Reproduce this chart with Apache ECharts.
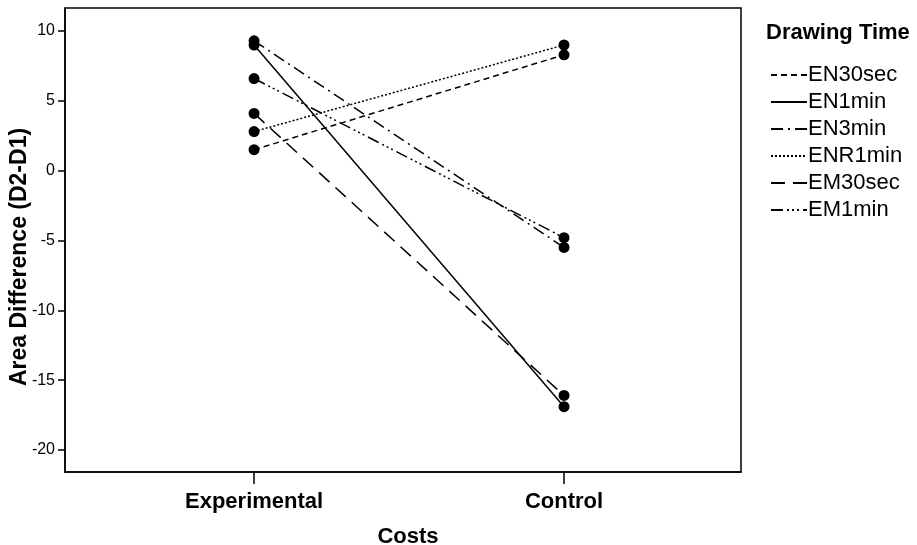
<!DOCTYPE html>
<html><head><meta charset="utf-8">
<script src="https://cdn.jsdelivr.net/npm/echarts@6/dist/echarts.min.js"></script>
<style>html,body{margin:0;padding:0;background:#fff}#c{width:917px;height:545px}</style>
</head><body><div id="c"></div>
<script>
const categories = ['Experimental', 'Control'];
const seriesNames = ['EN30sec', 'EN1min', 'EN3min', 'ENR1min', 'EM30sec', 'EM1min'];
const EN30sec = [1.5, 8.3];
const EN1min = [9.0, -16.9];
const EN3min = [9.3, -5.5];
const ENR1min = [2.8, 9.0];
const EM30sec = [4.1, -16.1];
const EM1min = [6.6, -4.8];
const yTicks = [-20, -15, -10, -5, 0, 5, 10];

const values = [EN30sec, EN1min, EN3min, ENR1min, EM30sec, EM1min];
const dashes = [[6, 4], 'solid', [12, 5, 2, 5], [2, 2], [14, 8], [12, 4, 2, 3, 2, 3, 2, 4]];
const FONT = 'Liberation Sans, Arial, sans-serif';

const chart = echarts.init(document.getElementById('c'), null, {renderer: 'canvas'});
chart.setOption({
  animation: false,
  title: {
    text: 'Drawing Time', left: 761, top: 17,
    textStyle: {fontFamily: FONT, fontWeight: 'bold', fontSize: 22, color: '#000'}
  },
  legend: {
    orient: 'vertical', left: 765, top: 59, itemGap: 5,
    itemWidth: 36, itemHeight: 14,
    itemStyle: {opacity: 0},
    textStyle: {fontFamily: FONT, fontSize: 22, color: '#000', padding: [0, 0, 0, -4]},
    data: seriesNames
  },
  grid: {left: 65, right: 176, top: 8, bottom: 73, show: true, borderColor: '#000', borderWidth: 1.5,
    containLabel: false, outerBoundsMode: 'none'},
  xAxis: {
    type: 'value', min: -0.61, max: 1.571,
    name: 'Costs', nameLocation: 'middle', nameGap: 54, nameMoveOverlap: false,
    nameTextStyle: {fontFamily: FONT, fontWeight: 'bold', fontSize: 22, color: '#000', padding: [0, 0, 0, 10]},
    axisLine: {onZero: false, lineStyle: {color: '#000', width: 1.5}},
    axisTick: {show: true, length: 12, lineStyle: {color: '#000', width: 1.5}, customValues: [0, 1]},
    axisLabel: {customValues: [0, 1], formatter: v => categories[Math.round(v)], margin: 19,
      fontFamily: FONT, fontWeight: 'bold', fontSize: 22, color: '#000'},
    splitLine: {show: false}
  },
  yAxis: {
    type: 'value', min: -21.58, max: 11.65,
    name: 'Area Difference (D2-D1)', nameLocation: 'middle', nameGap: 34, nameMoveOverlap: false,
    nameTextStyle: {fontFamily: FONT, fontWeight: 'bold', fontSize: 23, color: '#000', padding: [0, 34, 0, 0]},
    axisLine: {show: true, onZero: false, lineStyle: {color: '#000', width: 1.5}},
    axisTick: {show: true, length: 7, lineStyle: {color: '#000', width: 1.5}, customValues: yTicks},
    axisLabel: {customValues: yTicks, margin: 10, fontFamily: FONT, fontSize: 16, color: '#000'},
    splitLine: {show: false}
  },
  series: seriesNames.map((n, i) => ({
    name: n, type: 'line',
    data: values[i].map((v, k) => [k, v]),
    symbol: 'circle', symbolSize: 11,
    itemStyle: {color: '#000'},
    lineStyle: {color: '#000', width: 1.5, type: dashes[i]},
    z: 2
  }))
});
</script></body></html>
